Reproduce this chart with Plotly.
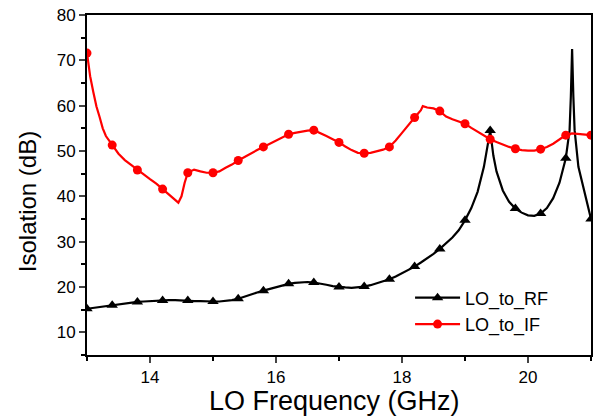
import plotly.graph_objects as go

# LO_to_RF isolation (dB)
rf_freq = [13.0, 13.1, 13.2, 13.3, 13.4, 13.5, 13.6, 13.7, 13.8, 13.9, 14.0, 14.1, 14.2, 14.3, 14.4,
           14.5, 14.6, 14.7, 14.8, 14.9, 15.0, 15.1, 15.2, 15.3, 15.4, 15.5, 15.6, 15.7, 15.8, 15.9,
           16.0, 16.1, 16.2, 16.3, 16.4, 16.5, 16.6, 16.7, 16.8, 16.9, 17.0, 17.1, 17.2, 17.3, 17.4,
           17.5, 17.6, 17.7, 17.8, 17.9, 18.0, 18.1, 18.2, 18.3, 18.4, 18.5, 18.6, 18.7, 18.8, 18.9,
           19.0, 19.1, 19.2, 19.3, 19.35, 19.4, 19.45, 19.5, 19.6, 19.7, 19.8, 19.9, 20.0, 20.1, 20.2,
           20.3, 20.4, 20.5, 20.6, 20.66, 20.68, 20.7, 20.72, 20.74, 20.8, 20.9, 21.0]
rf_db = [15.2, 15.4, 15.6, 15.8, 16.0, 16.2, 16.4, 16.5, 16.7, 16.8, 16.9, 17.0, 17.0, 17.1, 17.1,
         17.0, 17.0, 16.9, 16.9, 16.8, 16.8, 16.8, 16.9, 17.1, 17.4, 17.9, 18.4, 18.8, 19.2, 19.6,
         20.0, 20.4, 20.7, 20.9, 21.0, 21.1, 21.0, 20.8, 20.5, 20.2, 20.0, 19.9, 19.8, 19.9, 20.1,
         20.4, 20.8, 21.2, 21.7, 22.3, 23.0, 23.7, 24.5, 25.4, 26.3, 27.3, 28.4, 29.6, 30.9, 32.5,
         34.7, 37.4, 41.0, 46.5, 50.5, 54.5, 49.0, 45.5, 41.3, 38.8, 37.3, 36.4, 35.8, 35.7, 36.2,
         37.4, 39.6, 43.0, 48.4, 54.6, 62.0, 72.5, 62.0, 54.6, 46.5, 40.5, 35.0]

# LO_to_IF isolation (dB)
if_freq = [13.0, 13.05, 13.1, 13.15, 13.2, 13.25, 13.3, 13.4, 13.5, 13.6, 13.7, 13.8, 13.9, 14.0,
           14.1, 14.2, 14.3, 14.4, 14.45, 14.5, 14.55, 14.6, 14.7, 14.8, 14.9, 15.0, 15.1, 15.2,
           15.3, 15.4, 15.5, 15.6, 15.7, 15.8, 15.9, 16.0, 16.1, 16.2, 16.3, 16.4, 16.5, 16.6, 16.7,
           16.8, 16.9, 17.0, 17.1, 17.2, 17.3, 17.4, 17.5, 17.6, 17.7, 17.8, 17.9, 18.0, 18.1, 18.2,
           18.3, 18.33, 18.4, 18.5, 18.6, 18.7, 18.8, 18.9, 19.0, 19.1, 19.2, 19.3, 19.4, 19.5, 19.6,
           19.7, 19.8, 19.9, 20.0, 20.1, 20.2, 20.3, 20.4, 20.5, 20.6, 20.7, 20.8, 20.9, 21.0]
if_db = [71.6, 66.5, 63.0, 59.8, 57.5, 55.0, 53.3, 51.3, 49.4, 48.0, 46.9, 45.8, 44.8, 43.8,
         42.8, 41.6, 40.5, 39.2, 38.6, 40.0, 43.0, 45.2, 45.9, 45.5, 45.2, 45.2, 45.5, 46.3,
         47.0, 47.9, 48.7, 49.5, 50.2, 50.9, 51.6, 52.3, 53.0, 53.7, 54.0, 54.3, 54.5, 54.6, 54.0,
         53.3, 52.6, 51.9, 51.0, 50.2, 49.6, 49.5, 49.6, 49.9, 50.3, 50.9, 52.3, 54.0, 55.8, 57.4,
         59.0, 59.9, 59.6, 59.4, 58.8, 57.6, 57.0, 56.5, 56.0, 55.1, 54.3, 53.4, 52.6, 52.0, 51.4,
         50.9, 50.5, 50.2, 50.1, 50.1, 50.4, 50.9, 51.6, 52.6, 53.5, 53.9, 53.8, 53.6, 53.5]

x_tick_vals = [14, 16, 18, 20]
y_tick_vals = [10, 20, 30, 40, 50, 60, 70, 80]
x_title = "LO Frequency (GHz)"
y_title = "Isolation (dB)"


def marker_subset(freqs, vals, start=13.0, step=0.4):
    xs, ys = [], []
    for f, v in zip(freqs, vals):
        k = (f - start) / step
        if abs(k - round(k)) < 1e-6:
            xs.append(f)
            ys.append(v)
    return xs, ys


series = [
    ("LO_to_RF", rf_freq, rf_db, "black", "triangle-up", 10),
    ("LO_to_IF", if_freq, if_db, "#ff0000", "circle", 9),
]

fig = go.Figure()
for name, fx, fy, color, sym, msize in series:
    fig.add_trace(go.Scatter(x=fx, y=fy, mode="lines", line=dict(color=color, width=2.2),
                             showlegend=False, legendgroup=name, hoverinfo="skip"))
    mx, my = marker_subset(fx, fy)
    fig.add_trace(go.Scatter(x=mx, y=my, mode="markers", name=name, legendgroup=name,
                             marker=dict(color=color, symbol=sym, size=msize, line=dict(width=0)),
                             showlegend=False))
for name, fx, fy, color, sym, msize in series:
    fig.add_trace(go.Scatter(x=[None], y=[None], mode="lines+markers", name=name, legendgroup=name,
                             line=dict(color=color, width=2.2),
                             marker=dict(color=color, symbol=sym, size=msize)))

font_family = "Liberation Sans, Arial, sans-serif"
fig.update_layout(
    width=597, height=420,
    margin=dict(l=87, r=6, t=15, b=65),
    paper_bgcolor="white", plot_bgcolor="white",
    font=dict(family=font_family, color="black"),
    legend=dict(x=0.641, y=0.222, xanchor="left", yanchor="top",
                bgcolor="rgba(0,0,0,0)", font=dict(size=18, family=font_family),
                itemwidth=45, tracegroupgap=0),
    showlegend=True,
    annotations=[
        dict(text=x_title, xref="paper", yref="paper", x=0.492, y=-0.135,
             xanchor="center", yanchor="middle", showarrow=False, font=dict(size=27)),
        dict(text=y_title, xref="paper", yref="paper", x=-0.118, y=0.451, textangle=-90,
             xanchor="center", yanchor="middle", showarrow=False, font=dict(size=24)),
    ],
)
fig.update_xaxes(
    range=[13, 21], tickvals=x_tick_vals, ticks="outside", ticklen=6, tickwidth=2,
    showline=True, linecolor="black", linewidth=2, mirror=True, showgrid=False, zeroline=False,
    automargin=False,
    tickfont=dict(size=17), minor=dict(dtick=1, ticks="outside", ticklen=4, tickwidth=2, tickcolor="black"),
)
fig.update_yaxes(
    range=[5, 80], tickvals=y_tick_vals, ticks="outside", ticklen=6, tickwidth=2,
    showline=True, linecolor="black", linewidth=2, mirror=True, showgrid=False, zeroline=False,
    automargin=False,
    tickfont=dict(size=17), minor=dict(tick0=5, dtick=10, ticks="outside", ticklen=4, tickwidth=2, tickcolor="black"),
)
fig.write_html(
    "out.html",
    config={"displayModeBar": False},
    post_script="document.body.style.margin='0';document.body.style.padding='0';document.body.style.overflow='hidden';",
)
